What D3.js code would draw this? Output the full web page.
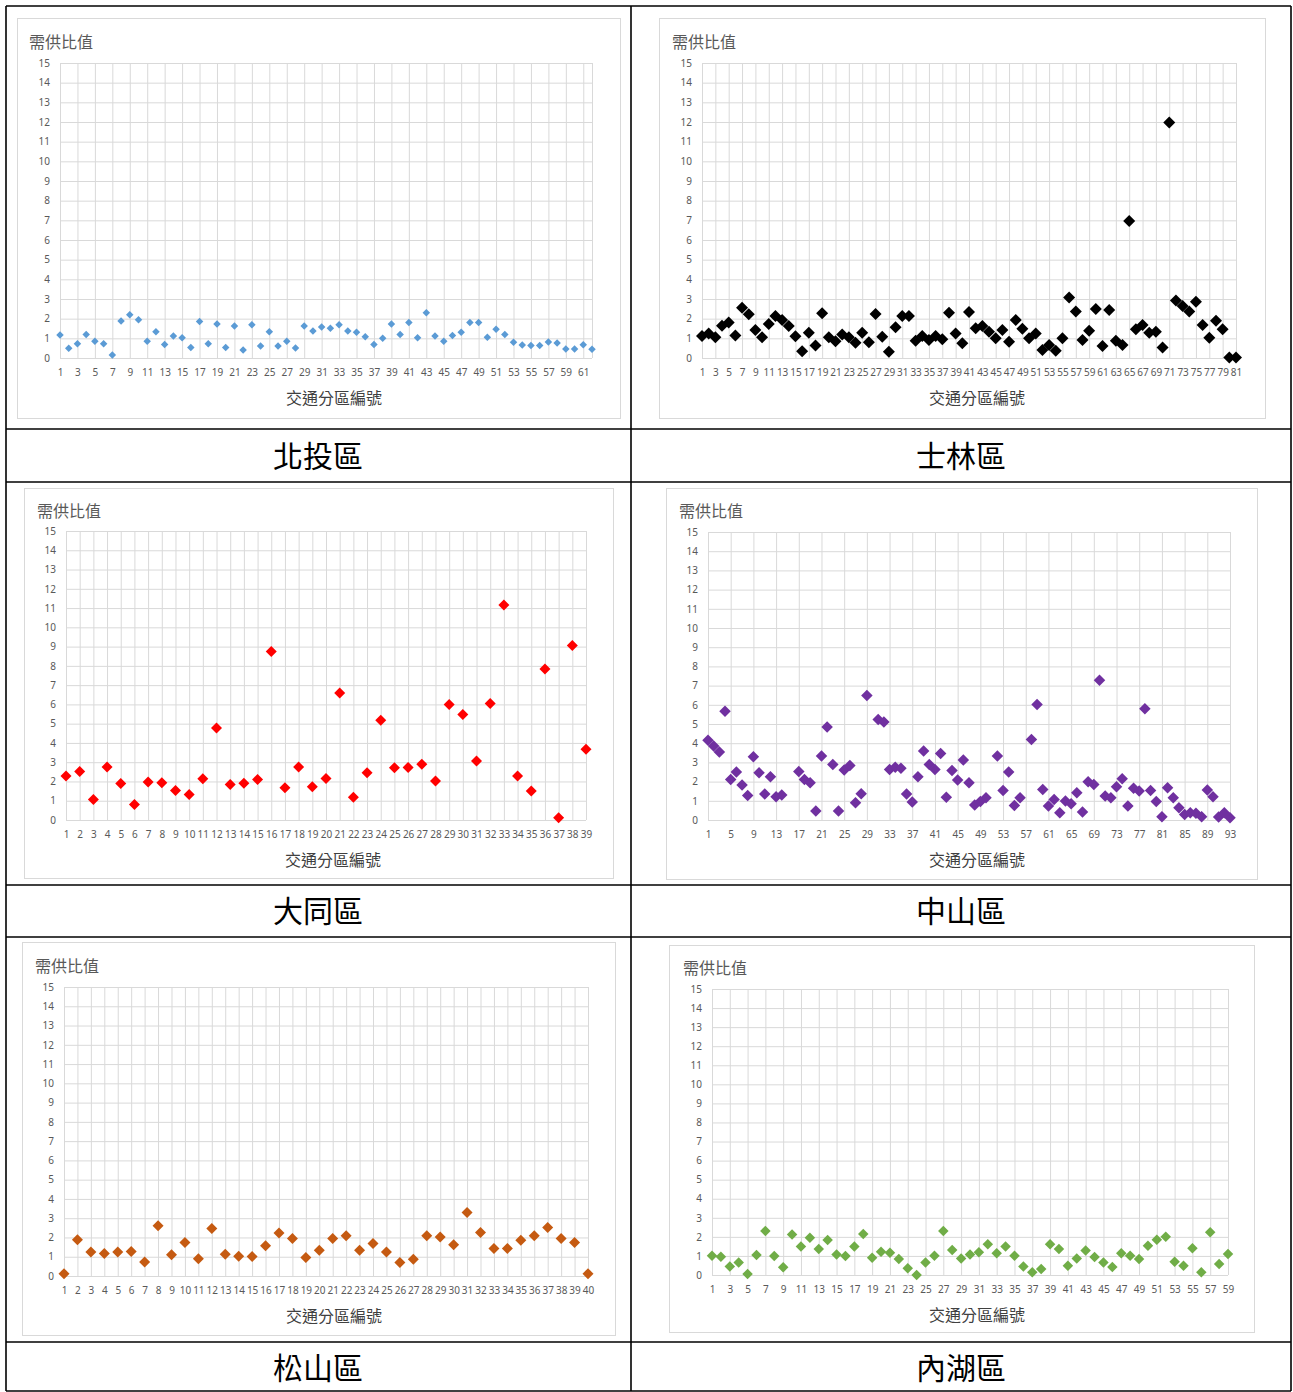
<!DOCTYPE html>
<html>
<head>
<meta charset="utf-8">
<script src="https://cdn.jsdelivr.net/npm/d3@7"></script>
<style>
body { margin: 0; background: #fff; }
text { font-family: "Noto Sans CJK TC", "Noto Sans", sans-serif; }
</style>
</head>
<body>
<svg width="1293" height="1392"></svg>
<script>
// 需供比值, one array per district (index 0 = 交通分區 1)
var beitou = [1.17,0.49,0.73,1.19,0.85,0.73,0.15,1.88,2.2,1.95, 0.85,1.34,0.69,1.12,1.03,0.53,1.85,0.73,1.73,0.53,
  1.63,0.41,1.69,0.61,1.34,0.61,0.85,0.51,1.63,1.37, 1.58,1.51,1.69,1.37,1.31,1.08,0.69,1.0,1.73,1.2,
  1.8,1.03,2.3,1.12,0.85,1.15,1.31,1.8,1.8,1.05, 1.46,1.19,0.8,0.66,0.63,0.63,0.81,0.76,0.46,0.46, 0.68,0.44];

var shilin = [1.12,1.25,1.05,1.64,1.8,1.15,2.56,2.22,1.42,1.05, 1.73,2.14,1.93,1.63,1.1,0.34,1.29,0.64,2.27,1.05,
  0.85,1.19,1.05,0.78,1.29,0.8,2.24,1.08,0.32,1.56, 2.14,2.14,0.88,1.12,0.92,1.12,0.95,2.3,1.25,0.75,
  2.34,1.51,1.63,1.34,1.0,1.42,0.83,1.93,1.49,1.0, 1.25,0.41,0.66,0.37,1.0,3.08,2.36,0.92,1.39,2.49,
  0.61,2.44,0.88,0.66,6.97,1.46,1.68,1.29,1.34,0.53, 11.98,2.92,2.64,2.36,2.86,1.68,1.03,1.9,1.46,0.02, 0.02];

var datong = [2.28,2.52,1.06,2.75,1.9,0.8,1.97,1.93,1.53,1.32, 2.14,4.78,1.84,1.91,2.1,8.75,1.67,2.75,1.72,2.16,
  6.59,1.18,2.45,5.18,2.71,2.73,2.9,2.02,6.0,5.48, 3.06,6.05,11.16,2.28,1.51,7.84,0.12,9.06,3.67];

var zhongshan = [4.16,3.85,3.54,5.67,2.11,2.5,1.82,1.28,3.29,2.46, 1.35,2.25,1.21,1.3,null,null,2.53,2.11,1.94,0.47,
  3.33,4.85,2.89,0.47,2.6,2.84,0.9,1.37,6.48,null, 5.23,5.11,2.63,2.75,2.7,1.35,0.94,2.25,3.59,2.89,
  2.63,3.47,1.18,2.58,2.08,3.12,1.94,0.78,0.97,1.16, null,3.33,1.54,2.5,0.76,1.16,null,4.19,6.01,1.59,
  0.73,1.07,0.38,0.99,0.85,1.42,0.42,1.99,1.85,7.28, 1.25,1.16,1.73,2.15,0.73,1.65,1.51,5.8,1.54,0.97,
  0.17,1.68,1.16,0.64,0.29,0.38,0.35,0.17,1.56,1.21, 0.16,0.38,0.12];

var songshan = [0.12,1.88,1.25,1.17,1.25,1.27,0.73,2.61,1.1,1.74, 0.9,2.47,1.13,1.03,1.01,1.57,2.23,1.95,0.96,1.34,
  1.95,2.09,1.34,1.69,1.25,0.7,0.87,2.09,2.03,1.62, 3.3,2.26,1.43,1.43,1.86,2.09,2.52,1.95,1.74,0.12];

var neihu = [1.01,0.96,0.44,0.66,0.05,1.05,2.31,1.0,0.4,2.13, 1.49,1.96,1.36,1.84,1.08,1.0,1.49,2.15,0.91,1.22,
  1.17,0.84,0.35,0.0,0.66,1.01,2.31,1.31,0.87,1.08, 1.19,1.61,1.14,1.49,1.01,0.44,0.14,0.31,1.61,1.36,
  0.49,0.87,1.28,0.94,0.65,0.42,1.14,1.01,0.84,1.54, 1.85,2.01,0.7,0.49,1.4,0.14,2.24,0.58,1.1];

var districts = ["北投區", "士林區", "大同區", "中山區", "松山區", "內湖區"];
var yTicks = d3.range(0, 16);
var chartTitle = "需供比值";
var xTitle = "交通分區編號";

// layout: box = chart frame, plot = [left, right, top, bottom]
var panels = [
  { values: beitou,    step: 2, color: "#5B9BD5", size: 7.5, box: [17, 18, 620, 418],  plot: [60, 592, 63, 358],   title: [29, 48],   xt: 334, label: [318, 456] },
  { values: shilin,    step: 2, color: "#000000", size: 12,  box: [659, 18, 1265, 418], plot: [702, 1236, 63, 358], title: [672, 48],  xt: 977, label: [961, 456] },
  { values: datong,    step: 1, color: "#FF0000", size: 11,  box: [24, 488, 613, 878],  plot: [66, 586, 531, 820],  title: [37, 517],  xt: 333, label: [318, 911] },
  { values: zhongshan, step: 4, color: "#7030A0", size: 11.5,box: [666, 488, 1257, 879],plot: [708, 1230, 532, 820], title: [679, 517], xt: 977, label: [961, 911] },
  { values: songshan,  step: 1, color: "#C55A11", size: 11,  box: [22, 942, 615, 1335], plot: [64, 588, 987, 1276],  title: [35, 972],  xt: 334, label: [318, 1368] },
  { values: neihu,     step: 2, color: "#70AD47", size: 10.5,box: [669, 945, 1254, 1332],plot: [712, 1228, 989, 1275],title: [683, 974], xt: 977, label: [961, 1368] }
];

var svg = d3.select("svg");

// table frame
var tableX = [6, 631, 1291];
var tableY = [6, 429, 482, 885, 937, 1342, 1391];
svg.selectAll(".hline").data(tableY).enter().append("line")
  .attr("x1", 6).attr("x2", 1291)
  .attr("y1", function(d) { return d; }).attr("y2", function(d) { return d; })
  .attr("stroke", "#000").attr("stroke-width", 1.6);
svg.selectAll(".vline").data(tableX).enter().append("line")
  .attr("x1", function(d) { return d; }).attr("x2", function(d) { return d; })
  .attr("y1", 6).attr("y2", 1391)
  .attr("stroke", "#000").attr("stroke-width", 1.6);

panels.forEach(function(p, k) {
  var g = svg.append("g");
  var n = p.values.length;
  var left = p.plot[0], right = p.plot[1], top = p.plot[2], bottom = p.plot[3];

  g.append("rect")
    .attr("x", p.box[0] + 0.5).attr("y", p.box[1] + 0.5)
    .attr("width", p.box[2] - p.box[0]).attr("height", p.box[3] - p.box[1])
    .attr("fill", "#fff").attr("stroke", "#d9d9d9");

  var x = d3.scaleLinear().domain([1, n]).range([left, right]);
  var y = d3.scaleLinear().domain([0, 15]).range([bottom, top]);
  var xTicks = d3.range(1, n + 1, p.step);

  // gridlines
  var gx = g.append("g").attr("transform", "translate(0," + bottom + ")")
    .call(d3.axisBottom(x).tickValues(xTicks.concat([n])).tickSize(-(bottom - top)).tickFormat(""));
  var gy = g.append("g").attr("transform", "translate(" + left + ",0)")
    .call(d3.axisLeft(y).tickValues(yTicks).tickSize(-(right - left)).tickFormat(""));
  [gx, gy].forEach(function(a) {
    a.select(".domain").remove();
    a.selectAll("line").attr("stroke", "#d9d9d9").attr("stroke-width", 1);
  });

  // tick labels
  var lx = g.append("g").attr("transform", "translate(0," + bottom + ")")
    .call(d3.axisBottom(x).tickValues(xTicks).tickSize(0).tickPadding(11).tickFormat(d3.format("d")));
  var ly = g.append("g").attr("transform", "translate(" + left + ",0)")
    .call(d3.axisLeft(y).tickValues(yTicks).tickSize(0).tickPadding(10));
  [lx, ly].forEach(function(a) {
    a.select(".domain").remove();
    a.selectAll("text").attr("fill", "#595959").style("font-size", "10px")
      .style("font-family", "'Noto Sans', 'Open Sans', sans-serif");
  });

  // markers
  var pts = p.values.map(function(v, i) { return { c: i + 1, v: v }; })
    .filter(function(d) { return d.v != null; });
  g.selectAll(".pt").data(pts).enter().append("path")
    .attr("d", d3.symbol(d3.symbolSquare, p.size * p.size / 2))
    .attr("transform", function(d) { return "translate(" + x(d.c) + "," + y(d.v) + ") rotate(45)"; })
    .attr("fill", p.color);

  g.append("text").attr("x", p.title[0]).attr("y", p.title[1])
    .attr("fill", "#595959").style("font-size", "16px").text(chartTitle);

  g.append("text").attr("x", p.xt).attr("y", bottom + 46)
    .attr("text-anchor", "middle").attr("fill", "#404040").style("font-size", "16px").text(xTitle);

  svg.append("text").attr("x", p.label[0]).attr("y", p.label[1] + 11)
    .attr("text-anchor", "middle").attr("fill", "#000").style("font-size", "30px").text(districts[k]);
});
</script>
</body>
</html>
